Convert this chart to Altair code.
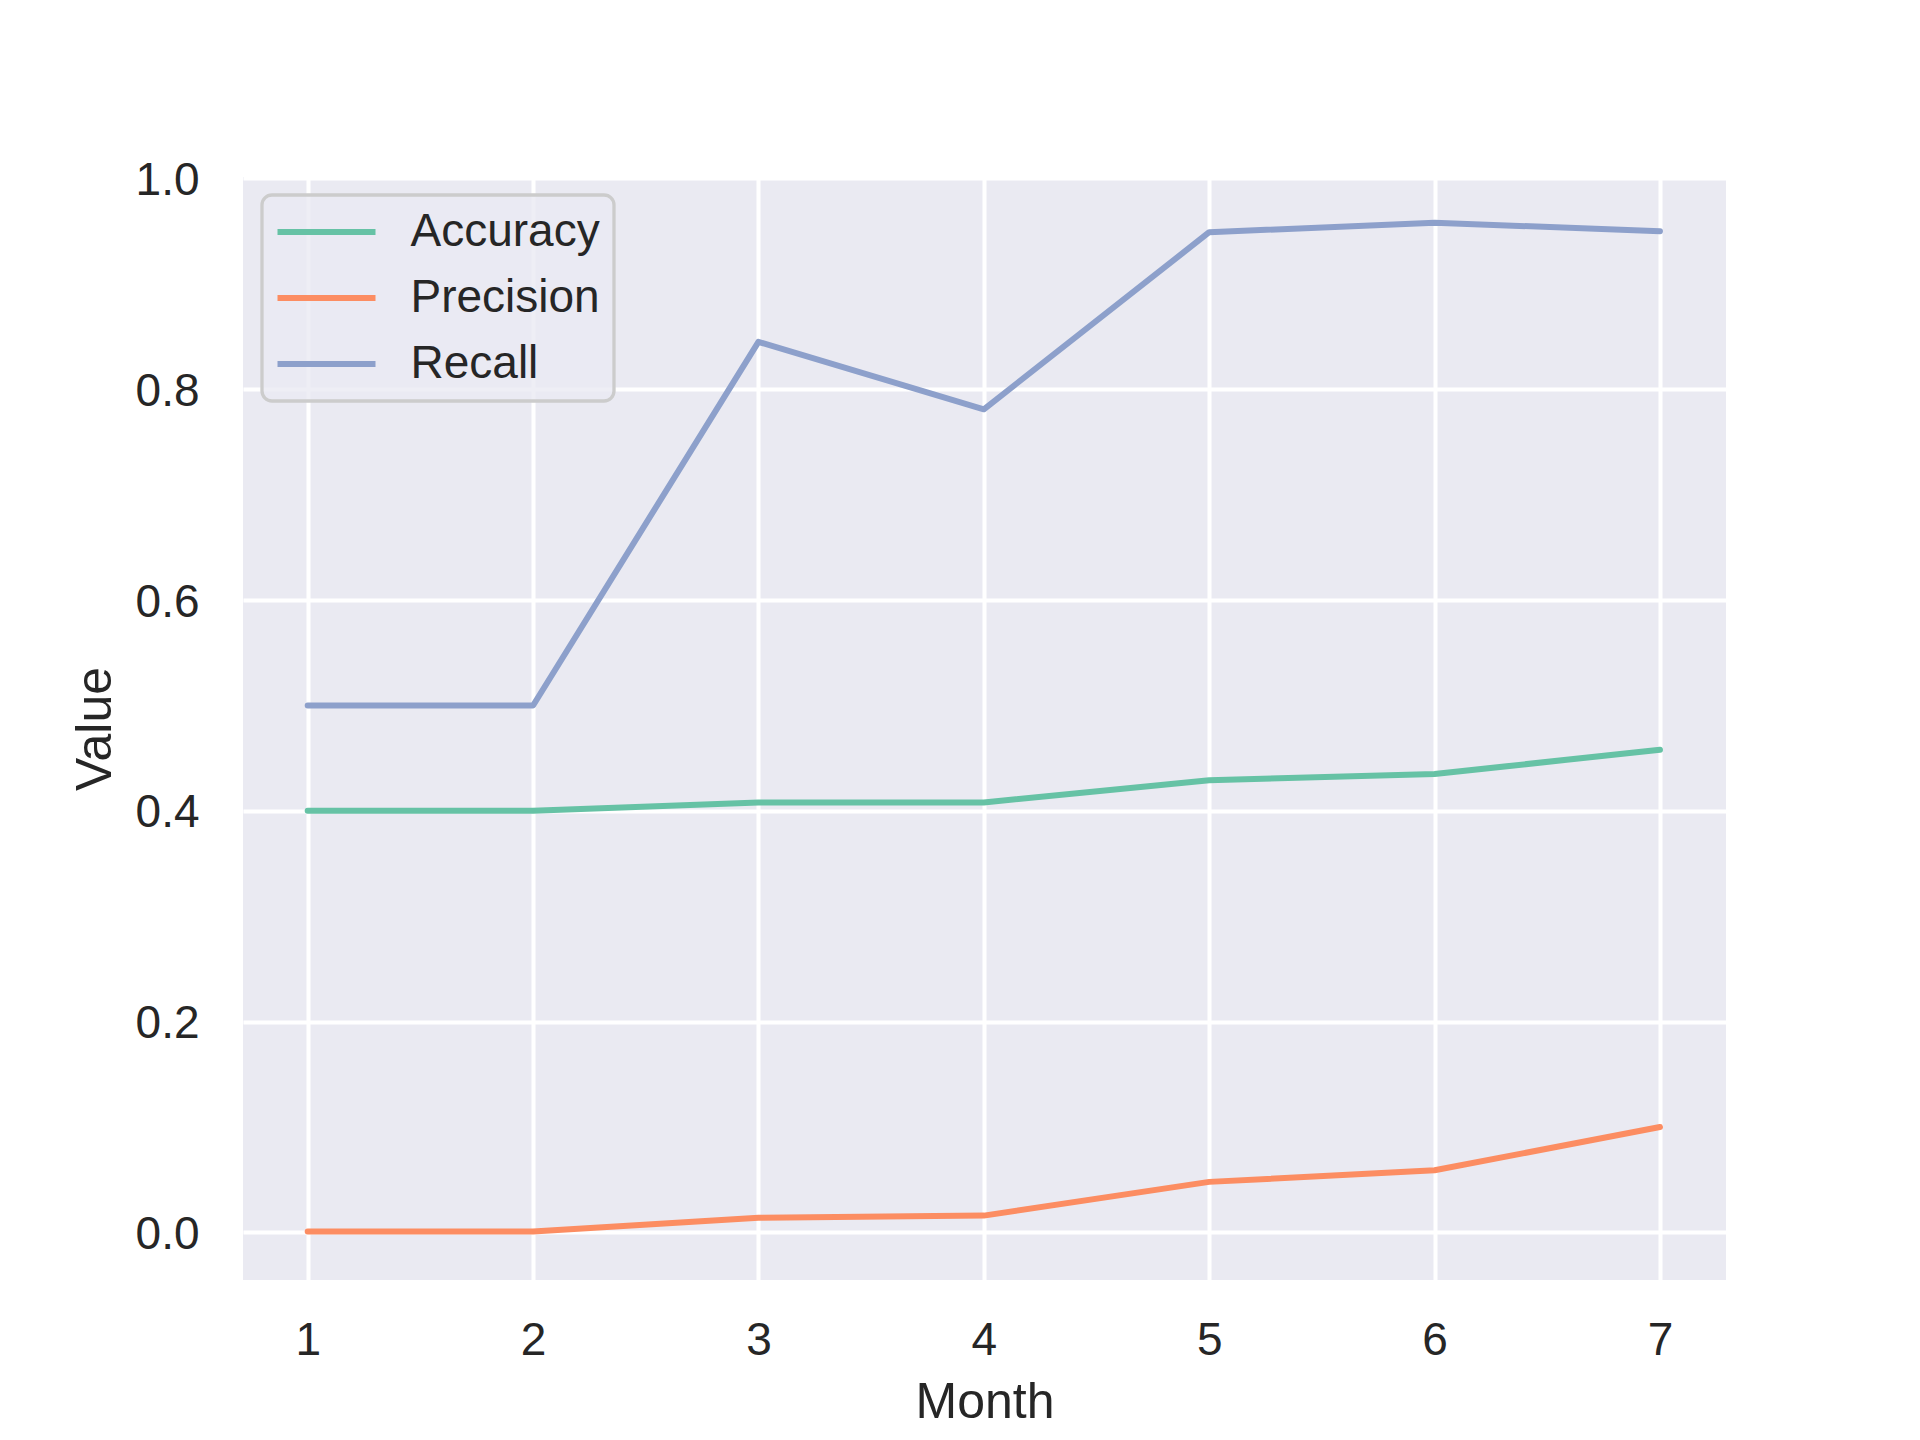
import altair as alt
import pandas as pd

# values
months = [1, 2, 3, 4, 5, 6, 7]
accuracy = [0.400, 0.400, 0.408, 0.408, 0.429, 0.435, 0.458]
precision = [0.001, 0.001, 0.014, 0.016, 0.048, 0.059, 0.100]
recall = [0.500, 0.500, 0.845, 0.781, 0.949, 0.958, 0.950]

metrics = ['Accuracy', 'Precision', 'Recall']
colors = ['#66c2a5', '#fc8d62', '#8da0cb']

FONT = 'Liberation Sans'
TEXT = '#262626'

df = pd.DataFrame({
    'Month': months * 3,
    'Value': accuracy + precision + recall,
    'Metric': [m for m in metrics for _ in months],
})

# long flat stroke as legend symbol (path is scaled by sqrt(size)/2)
legend_line = 'M-2.45,0H2.45'

chart = alt.Chart(df).mark_line(
    strokeWidth=6, strokeCap='round', strokeJoin='round'
).encode(
    x=alt.X('Month:Q',
            scale=alt.Scale(domain=[0.713, 7.293], nice=False, zero=False),
            axis=alt.Axis(values=months, format='d', labelPadding=38,
                          titleBaseline='alphabetic', titleY=137)),
    y=alt.Y('Value:Q',
            scale=alt.Scale(domain=[-0.0451, 1.0014], nice=False, zero=False),
            axis=alt.Axis(values=[0, 0.2, 0.4, 0.6, 0.8, 1.0], format='.1f',
                          labelPadding=44, labelOffset=2,
                          titleBaseline='alphabetic', titleX=-133)),
    color=alt.Color('Metric:N',
                    scale=alt.Scale(domain=metrics, range=colors),
                    legend=alt.Legend(
                        title=None, orient='none', legendX=19, legendY=18,
                        symbolType=legend_line, symbolSize=1600,
                        symbolStrokeWidth=6, symbolOffset=27.5,
                        labelFontSize=46, labelFont=FONT, labelColor=TEXT,
                        labelOffset=61, labelLimit=500,
                        padding=14, rowPadding=20,
                        strokeColor='#CCCCCC',
                        fillColor='rgba(234,234,242,0.8)',
                        cornerRadius=10)),
).properties(
    width=1483,
    height=1103,
    autosize=alt.AutoSizeParams(type='none'),
    padding={'left': 235, 'top': 169, 'right': 186, 'bottom': 152},
    background='white',
).configure_view(
    fill='#EAEAF2', stroke=None
).configure_legend(
    strokeWidth=3.3
).configure_axis(
    labelFont=FONT, labelFontSize=46, labelColor=TEXT,
    titleFont=FONT, titleFontSize=50, titleColor=TEXT, titleFontWeight='normal',
    ticks=False, domain=False,
    grid=True, gridColor='white', gridWidth=4, gridOpacity=1,
)

chart.save('out.html', embed_options={'renderer': 'svg', 'actions': False})
